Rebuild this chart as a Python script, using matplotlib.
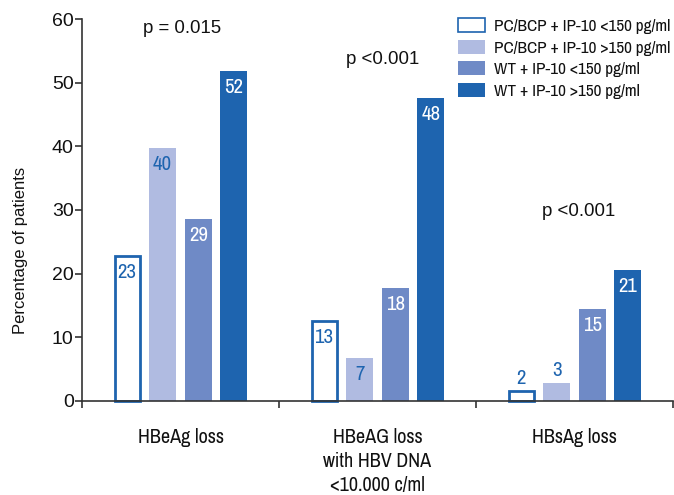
import matplotlib
matplotlib.use("Agg")
import matplotlib.pyplot as plt
import numpy as np

categories = ["HBeAg loss", "HBeAG loss\nwith HBV DNA\n<10.000 c/ml", "HBsAg loss"]
series_names = ["PC/BCP + IP-10 <150 pg/ml", "PC/BCP + IP-10 >150 pg/ml",
                "WT + IP-10 <150 pg/ml", "WT + IP-10 >150 pg/ml"]
# bar heights (one list per series, across categories)
pcbcp_low = [22.7, 12.6, 1.5]
pcbcp_high = [39.8, 6.7, 2.8]
wt_low = [28.6, 17.7, 14.4]
wt_high = [51.9, 47.6, 20.5]
# printed labels
pcbcp_low_lbl = ["23", "13", "2"]
pcbcp_high_lbl = ["40", "7", "3"]
wt_low_lbl = ["29", "18", "15"]
wt_high_lbl = ["52", "48", "21"]
p_values = ["p = 0.015", "p <0.001", "p <0.001"]
y_ticks = [0, 10, 20, 30, 40, 50, 60]

NARROW = ["Archivo Narrow", "Liberation Sans", "DejaVu Sans"]
REG = ["Liberation Sans", "DejaVu Sans"]
plt.rcParams['font.family'] = REG

BLUE = "#1e64af"
colors = ["white", "#b0bbe1", "#6f8ac6", BLUE]
edgecolors = [BLUE, "none", "none", "none"]
label_colors = [BLUE, BLUE, "white", "white"]

fig = plt.figure(figsize=(6.74, 4.95), dpi=100)
ax = fig.add_axes([82/674, 1 - 400.7/495, 591/674, 381.4/495])

values = [pcbcp_low, pcbcp_high, wt_low, wt_high]
labels = [pcbcp_low_lbl, pcbcp_high_lbl, wt_low_lbl, wt_high_lbl]
centers = np.arange(len(categories)) + 0.5
step = 0.181
width = 0.137
for i, (vals, lbls) in enumerate(zip(values, labels)):
    xs = centers + (i - 1.5) * step
    lw = 2.0 if i == 0 else 0
    ax.bar(xs, vals, width=width if i else width - 0.01, color=colors[i],
           edgecolor=edgecolors[i], linewidth=lw, label=series_names[i],
           zorder=2, clip_on=False)
    for x, v, t in zip(xs, vals, lbls):
        if v < 5:
            ax.annotate(t, (x, v), xytext=(0, 2), textcoords="offset points",
                        ha="center", va="bottom", fontsize=15,
                        family=NARROW, color=BLUE)
        else:
            ax.annotate(t, (x, v), xytext=(0, -5), textcoords="offset points",
                        ha="center", va="top", fontsize=15,
                        family=NARROW, color=label_colors[i])

# p-values
p_pos = [(0.507, 58.6), (1.524, 53.7), (2.523, 29.7)]
for (px, py), t in zip(p_pos, p_values):
    ax.text(px, py, t, ha="center", va="center", fontsize=13.4, color="#111111")

ax.set_xlim(0, 3)
ax.set_ylim(0, 60)
ax.set_yticks(y_ticks)
ax.set_xticks([0, 1, 2, 3])
ax.set_xticklabels([])
ax.set_xticks(centers, minor=True)
ax.set_xticklabels(categories, minor=True, family=NARROW, fontsize=14.5,
                   linespacing=1.32, va="top", color="#111111")
ax.tick_params(axis="x", which="minor", length=0, pad=20)
ax.tick_params(axis="x", which="major", length=5, width=1.2, color="#333333", direction="out")
ax.tick_params(axis="y", length=5, width=1.2, color="#333333", pad=1,
               labelsize=14, labelcolor="#111111")
for s in ["top", "right"]:
    ax.spines[s].set_visible(False)
for s in ["left", "bottom"]:
    ax.spines[s].set_color("#333333")
    ax.spines[s].set_linewidth(1.2)

ax.set_ylabel("Percentage of patients", fontsize=12, color="#111111")
ax.yaxis.set_label_coords(-0.091, 0.395)

leg = ax.legend(loc="upper left", bbox_to_anchor=(458.3/674, 1 - 18/495),
                bbox_transform=fig.transFigure, frameon=False,
                prop={"family": NARROW, "size": 12.4},
                handlelength=1.55, handleheight=0.88, handletextpad=0.5,
                labelspacing=0.33, borderpad=0, borderaxespad=0)
for t in leg.get_texts():
    t.set_color("#111111")
leg.legend_handles[0].set_linewidth(1.2)

fig.savefig("out.png", dpi=100)
